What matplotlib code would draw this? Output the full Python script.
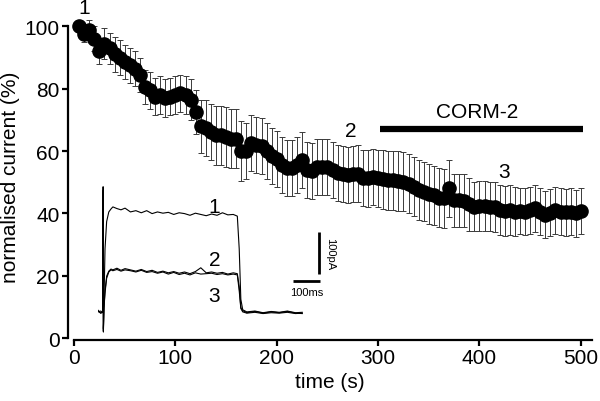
import matplotlib
matplotlib.use("Agg")
import matplotlib.pyplot as plt

plt.rcParams["font.family"] = ["Liberation Sans", "DejaVu Sans"]

# mean normalised current (%) every 5 s, with SEM
time_s = [5, 10, 15, 20, 25, 30, 35, 40, 45, 50,
          55, 60, 65, 70, 75, 80, 85, 90, 95, 100,
          105, 110, 115, 120, 125, 130, 135, 140, 145, 150,
          155, 160, 165, 170, 175, 180, 185, 190, 195, 200,
          205, 210, 215, 220, 225, 230, 235, 240, 245, 250,
          255, 260, 265, 270, 275, 280, 285, 290, 295, 300,
          305, 310, 315, 320, 325, 330, 335, 340, 345, 350,
          355, 360, 365, 370, 375, 380, 385, 390, 395, 400,
          405, 410, 415, 420, 425, 430, 435, 440, 445, 450,
          455, 460, 465, 470, 475, 480, 485, 490, 495, 500]
current_pct = [100, 97.5, 99, 96, 92, 94.5, 93, 91, 90, 88.5,
               87.5, 86.5, 84.5, 80.5, 79.5, 77.5, 78, 77, 77.5, 78,
               78.5, 78, 76.5, 72.5, 68, 67.5, 66, 65, 65, 64.5,
               64, 64, 60, 60, 62.5, 62, 61.5, 60, 58.5, 57.5,
               55.5, 54.5, 54.5, 55.5, 57, 54, 53.5, 55, 55, 55,
               54, 53, 52.5, 52.2, 52.5, 52.8, 51.5, 51.2, 51.8, 51.2,
               51, 50.6, 50.6, 50.4, 50.2, 49.5, 48.6, 47.5, 47, 46.2,
               45.8, 45, 44.8, 48, 44.2, 44.2, 44, 43, 42.2, 42.4,
               42.4, 42.2, 42, 41, 40.8, 41, 40.6, 40.8, 40.6, 41,
               41.6, 40.5, 39.6, 40.2, 41, 40.6, 40.4, 40.6, 40, 40.8]
sem_pct = [1.5, 2.5, 3, 4, 4, 5, 5, 5.5, 5.5, 5.5,
           5.5, 5.5, 5.5, 5.5, 6, 6, 6, 6, 6, 6,
           6, 6, 6.5, 7, 8.5, 9, 9, 9.5, 9.5, 9.5,
           9.5, 9.5, 9.5, 9, 9, 9, 9, 9, 9, 9,
           9, 9, 9, 9, 9, 9, 9, 9, 9, 9,
           9, 9, 9, 9, 9, 9, 9, 9, 9, 9,
           9.5, 9.5, 9.5, 9.5, 9.5, 9.5, 9.5, 9.5, 9.5, 9.5,
           9.5, 9.5, 9.5, 9, 8.5, 8.5, 8.5, 8.5, 8, 8,
           8, 8, 8, 8, 8, 8, 8, 7.5, 7.5, 7.5,
           7.5, 7.5, 7.5, 7.5, 7.5, 7.5, 7.5, 7.5, 7.5, 7.5]

corm_start, corm_end, corm_level = 302, 502, 67.2
trace_labels = ["1", "2", "3"]
trace_label_pos = [(10, 106), (273, 66.5), (424, 53.5)]

# example whole-cell traces (ms, pA)
trace_ms = [0, 10, 18, 19, 20, 22, 26, 32, 40, 48, 55, 70, 85, 100, 120,
            140, 160, 180, 200, 220, 240, 260, 280, 300, 320, 340, 360,
            380, 400, 420, 440, 460, 480, 500, 515, 522, 528, 535, 550,
            580, 610, 640, 670, 700, 730, 755]
trace1_pa = [2, -3, 0, 298, -48, 20, 150, 215, 238, 245, 250, 246, 243, 247, 238,
             241, 236, 241, 234, 238, 235, 237, 232, 236, 234, 230, 235,
             232, 229, 233, 230, 236, 231, 232, 228, 150, 30, 5, 0,
             2, -2, 1, -1, 2, -2, -1]
trace2_pa = [4, -3, 0, 290, -45, 10, 50, 85, 97, 102, 100, 104, 99, 103, 100,
             97, 101, 96, 99, 94, 97, 93, 96, 92, 95, 91, 96,
             105, 93, 95, 92, 94, 90, 93, 91, 60, 10, 3, -2,
             1, -3, 0, -2, 1, -3, -4]
trace3_pa = [0, 2, -2, 285, -40, 8, 45, 80, 95, 100, 98, 101, 97, 100, 98,
             95, 99, 94, 96, 92, 95, 90, 94, 89, 92, 88, 93,
             90, 91, 92, 89, 91, 88, 90, 88, 50, 8, 0, -3,
             -1, -4, -2, -3, -1, -4, -3]
scale_ms, scale_pa = 100, 100

FS = 15

fig = plt.figure(figsize=(6.0, 4.02), dpi=100)
ax = fig.add_axes([0.1133, 0.1567, 0.8733, 0.806])

ax.errorbar(time_s, current_pct, yerr=sem_pct, fmt="none", ecolor="#3a3a3a",
            elinewidth=0.7, capsize=2.2, capthick=0.7, zorder=2)
ax.plot(time_s, current_pct, "o", color="black", markersize=9.5, zorder=3)

ax.plot([corm_start, corm_end], [corm_level, corm_level], color="black",
        lw=4.5, solid_capstyle="butt")
ax.text((corm_start + corm_end) / 2 - 4, corm_level + 2.3, "CORM-2",
        ha="center", va="bottom", fontsize=FS)
for lab, (tx, ty) in zip(trace_labels, trace_label_pos):
    ax.text(tx, ty, lab, ha="center", va="center", fontsize=FS, clip_on=False)

ax.set_xlim(-6, 511)
ax.set_ylim(0, 104)
ax.set_xticks([0, 100, 200, 300, 400, 500])
ax.set_yticks([0, 20, 40, 60, 80, 100])
ax.spines["top"].set_visible(False)
ax.spines["right"].set_visible(False)
ax.spines["left"].set_bounds(0, 100)
ax.spines["bottom"].set_bounds(0, 511)
ax.spines["bottom"].set_position(("outward", 1.5))
for side in ("left", "bottom"):
    ax.spines[side].set_linewidth(1.6)
ax.tick_params(width=1.6, length=4, labelsize=FS, pad=2)
ax.set_xlabel("time (s)", fontsize=FS, labelpad=3)
ax.set_ylabel("normalised current (%)", fontsize=FS, labelpad=3)

# inset with the raw current traces
ins = fig.add_axes([0.1633, 0.159, 0.3833, 0.397])
ins.set_xlim(0, 850)
ins.set_ylim(-60, 320)
ins.axis("off")
for tr in (trace1_pa, trace2_pa, trace3_pa):
    ins.plot(trace_ms, tr, color="black", lw=0.8)
ins.text(430, 250, "1", ha="center", va="center", fontsize=FS)
ins.text(430, 124, "2", ha="center", va="center", fontsize=FS)
ins.text(430, 38, "3", ha="center", va="center", fontsize=FS)
ins.plot([720, 720 + scale_ms], [74, 74], color="black", lw=2, solid_capstyle="butt")
ins.plot([818, 818], [90, 90 + scale_pa], color="black", lw=2, solid_capstyle="butt")
ins.text(770, 60, "100ms", ha="center", va="top", fontsize=8)
ins.text(840, 140, "100pA", ha="left", va="center", rotation=-90, fontsize=8)

fig.savefig("out.png", dpi=100)
